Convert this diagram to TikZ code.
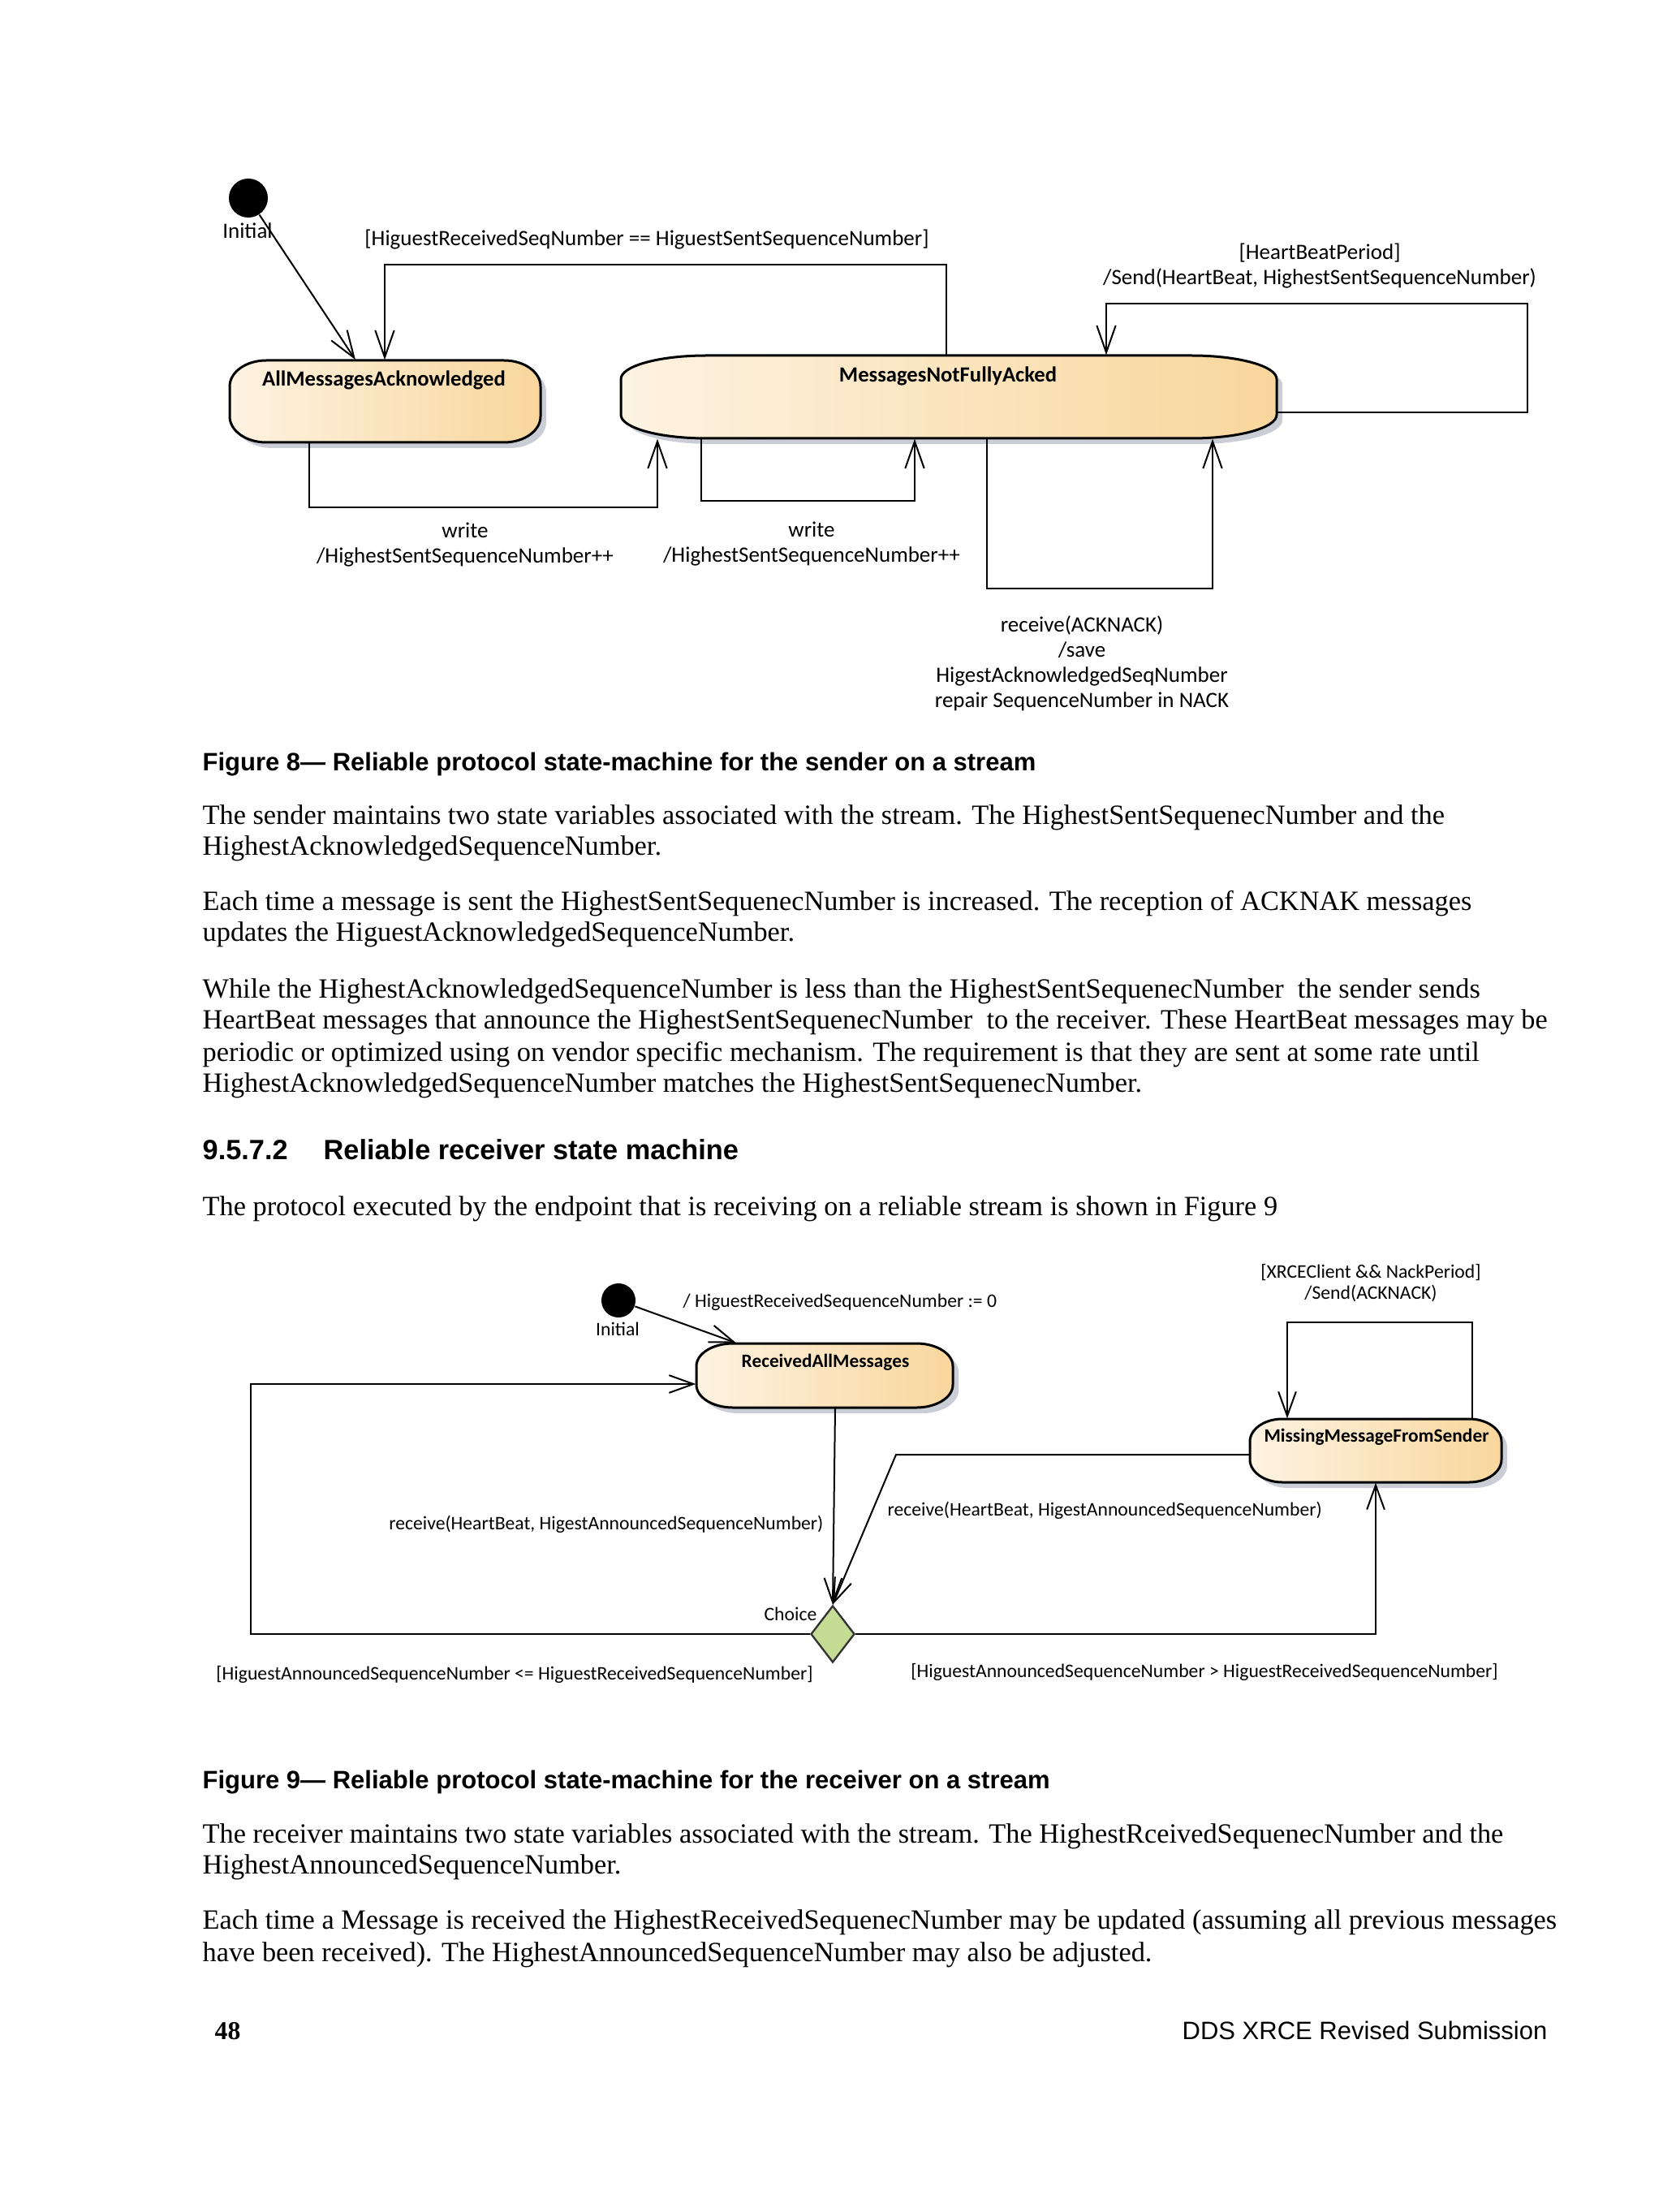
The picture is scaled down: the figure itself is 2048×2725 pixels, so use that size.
\documentclass[tikz,border=0pt]{standalone}
\usepackage{fontspec}
\setmainfont{Liberation Serif}
\newfontfamily\carl{Carlito}
\newfontfamily\arial{Liberation Sans}
\usetikzlibrary{arrows.meta,shapes.geometric}
\definecolor{boxL}{RGB}{253,243,226}
\definecolor{boxR}{RGB}{249,214,156}
\definecolor{shad}{RGB}{202,205,214}
\definecolor{chc}{RGB}{196,220,148}
% #1 style, #2 x1, #3 y1, #4 x2, #5 y2, #6 rx, #7 ry
\newcommand\stbox[7]{%
\path[#1] (#2,{#3+#7}) .. controls (#2,{#3+0.4477*#7}) and ({#2+0.4477*#6},#3) .. ({#2+#6},#3)
 -- ({#4-#6},#3) .. controls ({#4-0.4477*#6},#3) and (#4,{#3+0.4477*#7}) .. (#4,{#3+#7})
 -- (#4,{#5-#7}) .. controls (#4,{#5-0.4477*#7}) and ({#4-0.4477*#6},#5) .. ({#4-#6},#5)
 -- ({#2+#6},#5) .. controls ({#2+0.4477*#6},#5) and (#2,{#5-0.4477*#7}) .. (#2,{#5-#7}) -- cycle;}
\tikzset{
 lab/.style={font=\carl\fontsize{8.1}{9.3}\selectfont, align=center, inner sep=0},
 labB/.style={font=\carl\fontsize{7.1}{7.8}\selectfont, align=center, inner sep=0},
 ttl/.style={font=\carl\bfseries\fontsize{8}{9.6}\selectfont, inner sep=0},
 ttlB/.style={font=\carl\bfseries\fontsize{7}{8.4}\selectfont, inner sep=0},
 bodytxt/.style={font=\fontsize{10.3}{11.5}\selectfont, anchor=base west, inner sep=0},
 captxt/.style={font=\arial\bfseries\fontsize{9.3}{11}\selectfont, anchor=base west, inner sep=0},
 shadowst/.style={fill=shad, shift={(7,7)}},
 fillst/.style={left color=boxL, right color=boxR, draw=black, line width=0.9pt},
 anchorbox/.style={inner sep=0, draw=none},
 initst/.style={circle, fill=black, inner sep=0},
 arr/.style={-{Straight Barb[length=10pt,width=7pt]}, line width=0.6pt},
 arrB/.style={-{Straight Barb[length=9pt,width=6.5pt]}, line width=0.6pt},
}
\begin{document}
\begin{tikzpicture}[x=0.3pt,y=-0.3pt]
\fill[white] (0,0) rectangle (2048,2725);
\useasboundingbox (0,0) rectangle (2048,2725);

% ================= Figure 8 =================
\stbox{shadowst}{283}{444}{666}{545}{45}{32}
\stbox{fillst}{283}{444}{666}{545}{45}{32}
\stbox{shadowst}{765}{438}{1573}{540}{105}{29}
\stbox{fillst}{765}{438}{1573}{540}{105}{29}

\node[anchorbox, minimum width=114.9pt, minimum height=30.3pt] (ama) at (474.5,494.5) {};
\node[anchorbox, minimum width=242.4pt, minimum height=30.6pt] (mnfa) at (1169,489) {};
\node[ttl] (amat) at (473,468) {AllMessagesAcknowledged};
\node[ttl] (mnfat) at (1168,463) {MessagesNotFullyAcked};

\node[initst, minimum size=14.4pt] (init1) at (306,244) {};
\node[lab] (init1l) at (305,284) {Initial};

\draw[arr] (init1) -- (438,0 |- ama.north);
\draw[arr] (1166,0 |- mnfa.north) |- (474,326) -- (474,0 |- ama.north);
\draw[arr] (381,0 |- ama.south) |- (810,625) -- (810,0 |- mnfa.south);
\draw[arr] (864,0 |- mnfa.south) |- (1127,617) -- (1127,0 |- mnfa.south);
\draw[arr] (mnfa.east |- 0,508) -| (1882,374) -| (1363,0 |- mnfa.north);
\draw[arr] (1216,0 |- mnfa.south) |- (1494,725) -- (1494,0 |- mnfa.south);

\node[lab] (g1) at (797,295) {[HiguestReceivedSeqNumber == HiguestSentSequenceNumber]};
\node[lab] (hb) at (1626,328) {[HeartBeatPeriod]\\/Send(HeartBeat, HighestSentSequenceNumber)};
\node[lab] (w1) at (573,671) {write\\/HighestSentSequenceNumber++};
\node[lab] (w2) at (1000,670) {write\\/HighestSentSequenceNumber++};
\node[lab] (ack) at (1333,817) {receive(ACKNACK)\\/save\\HigestAcknowledgedSeqNumber\\repair SequenceNumber in NACK};

% ================= Text =================
\node[captxt] (c8) at (249,949) {Figure 8— Reliable protocol state-machine for the sender on a stream};
\node[bodytxt] (p1) at (249,1015) {The sender maintains two state variables associated with the stream. The HighestSentSequenecNumber and the};
\node[bodytxt] (p2) at (249,1053) {HighestAcknowledgedSequenceNumber.};
\node[bodytxt] (p3) at (249,1121) {Each time a message is sent the HighestSentSequenecNumber is increased. The reception of ACKNAK messages};
\node[bodytxt] (p4) at (249,1159) {updates the HiguestAcknowledgedSequenceNumber.};
\node[bodytxt] (p5) at (249,1229) {While the HighestAcknowledgedSequenceNumber is less than the HighestSentSequenecNumber\ \ the sender sends};
\node[bodytxt] (p6) at (249,1267) {HeartBeat messages that announce the HighestSentSequenecNumber\ \ to the receiver. These HeartBeat messages may be};
\node[bodytxt] (p7) at (249,1307) {periodic or optimized using on vendor specific mechanism. The requirement is that they are sent at some rate until};
\node[bodytxt] (p8) at (249,1345) {HighestAcknowledgedSequenceNumber matches the HighestSentSequenecNumber.};
\node[captxt, font=\arial\bfseries\fontsize{10.3}{12}\selectfont] (h1) at (249,1428) {9.5.7.2};
\node[captxt, font=\arial\bfseries\fontsize{10.3}{12}\selectfont] (h2) at (398,1428) {Reliable receiver state machine};
\node[bodytxt] (p9) at (249,1497) {The protocol executed by the endpoint that is receiving on a reliable stream is shown in Figure 9};

% ================= Figure 9 =================
\stbox{shadowst}{858}{1655}{1174}{1734}{45}{28}
\stbox{fillst}{858}{1655}{1174}{1734}{45}{28}
\stbox{shadowst}{1540}{1748}{1850}{1826}{40}{28}
\stbox{fillst}{1540}{1748}{1850}{1826}{40}{28}

\node[anchorbox, minimum width=94.8pt, minimum height=23.7pt] (ram) at (1016,1694.5) {};
\node[anchorbox, minimum width=93pt, minimum height=23.4pt] (mmfs) at (1695,1787) {};
\node[ttlB] (ramt) at (1017,1678) {ReceivedAllMessages};
\node[ttlB] (mmfst) at (1696,1770) {MissingMessageFromSender};

\node[initst, minimum size=12.6pt] (init2) at (762,1602) {};
\node[labB] (init2l) at (761,1637) {Initial};
\node[diamond, fill=chc, draw=black!80, line width=0.7pt, inner sep=0, minimum width=16.2pt, minimum height=21pt] (choice) at (1026,2013) {};
\node[labB, anchor=east] (choicel) at (1007,1988) {Choice};

\draw[arrB] (init2) -- (907,0 |- ram.north);
\draw[arrB] (1029,0 |- ram.south) -- (choice.north);
\draw[arrB] (mmfs.west |- 0,1792) -- (1104,1792) -- (choice.north);
\draw[arrB] (choice.west) -| (309,1705) -- (ram.west |- 0,1705);
\draw[arrB] (choice.east) -| (1695,0 |- mmfs.south);
\draw[arrB] (1814,0 |- mmfs.north) |- (1586,1629) -- (1586,0 |- mmfs.north);

\node[labB, anchor=west] (il) at (841,1604) {/ HiguestReceivedSequenceNumber := 0};
\node[labB] (xr) at (1689,1581) {[XRCEClient \&\& NackPeriod]\\/Send(ACKNACK)};
\node[labB, anchor=east] (rl) at (1015,1878) {receive(HeartBeat, HigestAnnouncedSequenceNumber)};
\node[labB, anchor=west] (rr) at (1093,1861) {receive(HeartBeat, HigestAnnouncedSequenceNumber)};
\node[labB] (gl) at (634,2063) {[HiguestAnnouncedSequenceNumber <= HiguestReceivedSequenceNumber]};
\node[labB] (gr) at (1484,2060) {[HiguestAnnouncedSequenceNumber > HiguestReceivedSequenceNumber]};

% ================= Text =================
\node[captxt] (c9) at (249,2203) {Figure 9— Reliable protocol state-machine for the receiver on a stream};
\node[bodytxt] (q1) at (249,2270) {The receiver maintains two state variables associated with the stream. The HighestRceivedSequenecNumber and the};
\node[bodytxt] (q2) at (249,2308) {HighestAnnouncedSequenceNumber.};
\node[bodytxt] (q3) at (249,2376) {Each time a Message is received the HighestReceivedSequenecNumber may be updated (assuming all previous messages};
\node[bodytxt] (q4) at (249,2416) {have been received). The HighestAnnouncedSequenceNumber may also be adjusted.};
\node[bodytxt, font=\bfseries\fontsize{9.5}{11}\selectfont] (pg) at (264,2512) {48};
\node[bodytxt, anchor=base east, font=\arial\fontsize{9.3}{11}\selectfont] (ft) at (1907,2512) {DDS XRCE Revised Submission};
\end{tikzpicture}
\end{document}
